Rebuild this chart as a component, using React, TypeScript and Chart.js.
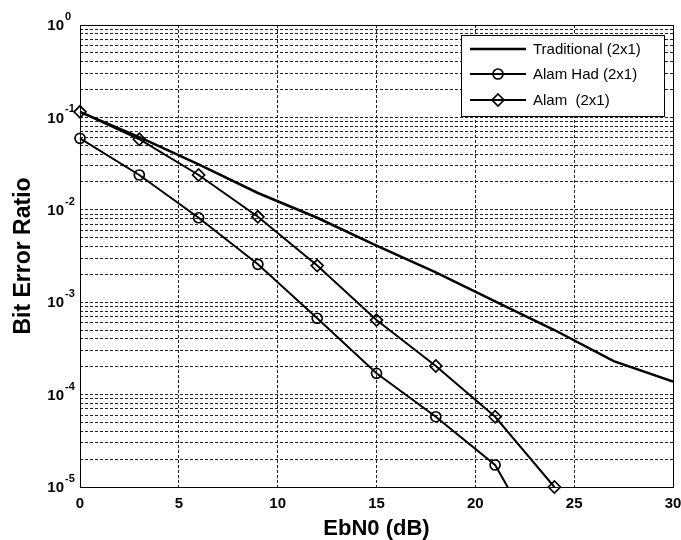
import { useEffect, useRef } from 'react';
import { Chart, registerables } from 'chart.js';

Chart.register(...registerables);

// ---- data ----
const ebn0 = [0, 3, 6, 9, 12, 15, 18, 21, 24, 27, 30];
const traditional = [0.115, 0.061, 0.031, 0.0152, 0.0082, 0.0041, 0.0021, 0.00102, 0.0005, 0.00023, 0.000138];
const alamHad = [0.0594, 0.0238, 0.0082, 0.00257, 0.00067, 0.00017, 0.0000576, 0.0000173, 0.0000013];
const alam = [0.115, 0.058, 0.0238, 0.0084, 0.00249, 0.00064, 0.000204, 0.0000576, 0.00001];
const seriesLabels = ['Traditional (2x1)', 'Alam Had (2x1)', 'Alam  (2x1)'];
const xTickValues = [0, 5, 10, 15, 20, 25, 30];
const yDecadeExponents = [0, -1, -2, -3, -4, -5];
const yMantissas = [1, 2, 3, 4, 5, 6, 7, 8, 9];

const FONT = "'Liberation Sans', Arial, sans-serif";

const toPoints = (xs: number[], ys: number[]) => ys.map((y, i) => ({ x: xs[i], y }));

const decorPlugin = {
  id: 'decor',
  afterDraw(chart: any) {
    const { ctx, chartArea: a, scales } = chart;
    ctx.save();
    ctx.setLineDash([]);
    // axes box
    ctx.strokeStyle = '#000';
    ctx.lineWidth = 1;
    ctx.strokeRect(Math.round(a.left) + 0.5, Math.round(a.top) + 0.5, Math.round(a.right - a.left), Math.round(a.bottom - a.top));

    // y tick labels 10^n
    ctx.fillStyle = '#000';
    yDecadeExponents.forEach((e) => {
      const y = scales.y.getPixelForValue(Math.pow(10, e));
      ctx.font = `bold 15px ${FONT}`;
      ctx.textAlign = 'right';
      ctx.textBaseline = 'middle';
      ctx.fillText('10', 64, y + 1);
      ctx.font = `bold 11px ${FONT}`;
      ctx.textAlign = 'left';
      ctx.fillText(String(e), 65, y - 8);
    });

    // legend
    const lx = 461, ly = 35, lw = 203, lh = 81;
    ctx.fillStyle = '#fff';
    ctx.fillRect(lx, ly, lw, lh);
    ctx.strokeStyle = '#000';
    ctx.lineWidth = 1;
    ctx.strokeRect(lx + 0.5, ly + 0.5, lw, lh);
    const rows = [49, 74, 100];
    chart.data.datasets.forEach((ds: any, i: number) => {
      const y = rows[i];
      ctx.strokeStyle = '#000';
      ctx.lineWidth = ds.borderWidth;
      ctx.beginPath();
      ctx.moveTo(470, y);
      ctx.lineTo(526, y);
      ctx.stroke();
      ctx.lineWidth = 1.7;
      if (ds.pointStyle === 'circle' && ds.pointRadius > 0) {
        ctx.beginPath();
        ctx.arc(498, y, ds.pointRadius, 0, Math.PI * 2);
        ctx.stroke();
      } else if (ds.pointStyle === 'rectRot' && ds.pointRadius > 0) {
        const r = ds.pointRadius;
        ctx.beginPath();
        ctx.moveTo(498, y - r);
        ctx.lineTo(498 + r, y);
        ctx.lineTo(498, y + r);
        ctx.lineTo(498 - r, y);
        ctx.closePath();
        ctx.stroke();
      }
      ctx.fillStyle = '#000';
      ctx.font = `15px ${FONT}`;
      ctx.textAlign = 'left';
      ctx.textBaseline = 'middle';
      ctx.fillText(ds.label, 533, y + 1);
    });
    ctx.restore();
  },
};

export default function App() {
  const ref = useRef<HTMLCanvasElement>(null);

  useEffect(() => {
    if (!ref.current) return;
    const yTicks: number[] = [];
    yDecadeExponents.forEach((e) => {
      yMantissas.forEach((m) => {
        const v = m * Math.pow(10, e);
        if (v <= 1) yTicks.push(v);
      });
    });
    const chart = new Chart(ref.current, {
      type: 'line',
      data: {
        datasets: [
          {
            label: seriesLabels[0],
            data: toPoints(ebn0, traditional),
            borderColor: '#000',
            borderWidth: 2.5,
            pointRadius: 0,
            pointStyle: false as any,
            tension: 0,
          },
          {
            label: seriesLabels[1],
            data: toPoints(ebn0, alamHad),
            borderColor: '#000',
            borderWidth: 2,
            pointStyle: 'circle',
            pointRadius: 5,
            pointBorderWidth: 1.7,
            pointBorderColor: '#000',
            pointBackgroundColor: 'rgba(0,0,0,0)',
            tension: 0,
            clip: { left: 10, right: 10, top: 10, bottom: 0 } as any,
          },
          {
            label: seriesLabels[2],
            data: toPoints(ebn0, alam),
            borderColor: '#000',
            borderWidth: 2,
            pointStyle: 'rectRot',
            pointRadius: 6,
            pointBorderWidth: 1.7,
            pointBorderColor: '#000',
            pointBackgroundColor: 'rgba(0,0,0,0)',
            tension: 0,
            clip: { left: 10, right: 10, top: 10, bottom: 10 } as any,
          },
        ],
      },
      options: {
        responsive: false,
        animation: false,
        devicePixelRatio: 1,
        layout: { padding: { top: 25, right: 0, left: 0, bottom: 0 } },
        plugins: { legend: { display: false }, tooltip: { enabled: false } },
        scales: {
          x: {
            type: 'linear',
            min: 0,
            max: 30,
            afterBuildTicks: (scale: any) => {
              scale.ticks = xTickValues.map((v) => ({ value: v }));
            },
            afterFit: (scale: any) => {
              scale.height = 53;
              scale.paddingRight = 8;
              scale.paddingLeft = 0;
            },
            grid: { color: '#222', lineWidth: 1, drawTicks: false },
            border: { display: false, dash: [3, 2] },
            ticks: {
              color: '#000',
              font: { family: FONT, size: 15, weight: 'bold' },
              padding: 8,
              maxRotation: 0,
              autoSkip: false,
            },
            title: {
              display: true,
              text: 'EbN0 (dB)',
              color: '#000',
              font: { family: FONT, size: 22, weight: 'bold', lineHeight: 1 },
              padding: { top: 0, bottom: 0 },
            },
          },
          y: {
            type: 'logarithmic',
            min: 1e-5,
            max: 1,
            afterBuildTicks: (scale: any) => {
              scale.ticks = yTicks.map((v) => ({ value: v }));
            },
            afterFit: (scale: any) => {
              scale.width = 80;
            },
            grid: { color: '#222', lineWidth: 1, drawTicks: false },
            border: { display: false, dash: [3, 2] },
            ticks: { display: false, autoSkip: false },
            title: {
              display: true,
              text: 'Bit Error Ratio',
              color: '#000',
              font: { family: FONT, size: 23, weight: 'bold', lineHeight: 1 },
              padding: { top: 12, bottom: 0 },
            },
          },
        },
      },
      plugins: [decorPlugin],
    });
    return () => chart.destroy();
  }, []);

  return (
    <div style={{ position: 'fixed', left: 0, top: 0, width: 681, height: 540, background: '#fff' }}>
      <canvas ref={ref} width={681} height={540} />
    </div>
  );
}
